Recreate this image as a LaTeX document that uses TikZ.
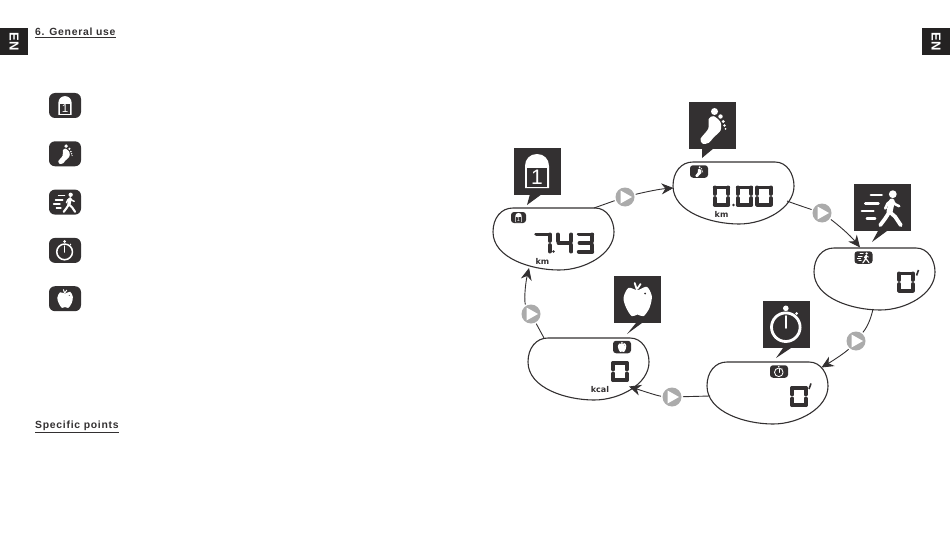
\documentclass[tikz,border=0pt]{standalone}
\usepackage{fontspec}
\usetikzlibrary{arrows.meta}
\usetikzlibrary{positioning}
\setmainfont{Liberation Sans}
\newfontfamily\headfont[LetterSpace=7]{Liberation Sans}
\newfontfamily\unitfont{DejaVu Sans}
\definecolor{ink}{HTML}{333031}
\definecolor{btngray}{HTML}{ABABAB}
% lcd segments of one digit
\def\sega{(-6.8,-8.6) -- (6.8,-8.6)}
\def\segb{(6.8,-8.6) -- (6.8,-2)}
\def\segc{(6.8,2) -- (6.8,8.6)}
\def\segd{(-6.8,8.6) -- (6.8,8.6)}
\def\sege{(-6.8,2) -- (-6.8,8.6)}
\def\segf{(-6.8,-8.6) -- (-6.8,-2)}
\def\segg{(-6,0) -- (6,0)}
\tikzset {
  flow/.style = {
    draw = ink,
    line width = 0.9pt
  },
  % path style with arrow at the end
  flowarr/.style = {
    flow,
    -{Stealth[length = 12pt, width = 11pt]}
  },
  blobline/.style = {
    draw = ink,
    line width = 1.1pt,
    fill = white
  },
  lcdseg/.style = {
    draw = ink,
    line width = 3.8pt,
    line cap = round
  },
  glyph/.style = {
    draw = white,
    line cap = round,
    line join = round
  }
}
\tikzset {
  % big square picture above a display
  bigicon/.style = {
    fill = ink,
    minimum width = 47pt,
    minimum height = 47pt,
    inner sep = 0
  },
  % rounded icon inside a display
  tinyicon/.style = {
    fill = ink,
    rounded corners = 3pt,
    minimum width = 18pt,
    minimum height = 12.5pt,
    inner sep = 0
  },
  % rounded icon of the left column
  listicon/.style = {
    fill = ink,
    rounded corners = 6pt,
    minimum width = 32pt,
    minimum height = 25pt,
    inner sep = 0
  },
  playbtn/.style = {
    circle,
    fill = btngray,
    minimum size = 19pt,
    inner sep = 0,
    outer sep = 1.5pt,
    path picture = {
      \fill[white] (path picture bounding box.center)
      ++(-4.5,-6.5) -- ++(11.5,6.5) -- ++(-11.5,6.5) -- cycle;
    }
  },
  langtab/.style = {
    fill = ink!70!black,
    text = white,
    minimum width = 28pt,
    minimum height = 27pt,
    inner sep = 0
  },
  heading/.style = {
    anchor = west,
    inner sep = 0,
    text = ink,
    font = \headfont\bfseries\fontsize{10.4}{12}\selectfont
  },
  unitlabel/.style = {
    inner sep = 0,
    text = ink,
    font = \unitfont\bfseries\fontsize{8}{9}\selectfont
  },
  node distance = 22.9pt
}
\tikzset {
  display blob/.pic = {
    \path[blobline] (20,0) -- (102,0)
    .. controls (114,0) and (121,12) .. (121,24)
    .. controls (121,46) and (92,62) .. (66,62)
    .. controls (38,62) and (0,50) .. (0,24)
    .. controls (0,10) and (8,0) .. (20,0) -- cycle;
  },
  lcd digit/.pic = {
    \foreach \seg in {#1} {
      \draw[lcdseg] \csname seg\seg\endcsname;
    }
  },
  % the glyphs, #1 is the size against the big square
  odo glyph/.pic = {
    \begin{scope}[scale = #1]
      \fill[white] (-12,17) -- (-12,-5) .. controls (-12,-12) and (-7,-17) .. (0,-17)
      .. controls (7,-17) and (12,-12) .. (12,-5) -- (12,17) -- cycle;
      \fill[ink] (-9.7,-3.3) rectangle (9.7,15.5);
      \node[text = white, inner sep = 0, transform shape,
        font = \fontsize{21}{21}\selectfont] (odo-one) at (0,6.2) {1};
    \end{scope}
  },
  foot glyph/.pic = {
    \begin{scope}[scale = #1]
      \fill[white] plot[smooth cycle] coordinates {(-12,13.3) (-9.7,18.3) (-3.7,17.3)
        (1.3,11.7) (8,5) (8,-3.3) (1.3,-9.3) (-3.7,-6.7) (-4.3,3.3)};
      \fill[white] (2,-14) circle (3.5) (8,-9) circle (2.2) (10.7,-4) circle (1.6)
      (12,0) circle (1.3) (13,3.3) circle (1);
    \end{scope}
  },
  walk glyph/.pic = {
    \begin{scope}[scale = #1]
      \fill[white] (10.3,-13.3) circle (3.9);
      \draw[glyph, line width = #1*6pt] (9.3,-6) -- (7,4.3);
      \draw[glyph, line width = #1*3.8pt] (7,4.3) -- (12.7,9.3) -- (18.3,17.7)
      (7,4.3) -- (2.7,11) -- (-2.3,17.7);
      \draw[glyph, line width = #1*2.6pt] (9.3,-7) -- (12.7,-3.3) -- (16.7,-1.3)
      (9.3,-7) -- (5,-4) -- (2.7,1);
      \draw[glyph, line width = #1*2.4pt] (-11.7,-12.3) -- (-0.7,-12.3)
      (-17.3,-4) -- (-4,-4) (-20.7,3.7) -- (-9,3.7) (-15.7,11) -- (-7.3,11);
    \end{scope}
  },
  clock glyph/.pic = {
    \begin{scope}[scale = #1]
      \draw[glyph, line width = #1*2.8pt] (-0.7,2.7) circle (14.3);
      \draw[glyph, line width = #1*2pt] (-0.7,-8.3) -- (-0.7,3.3);
      \fill[white] (-0.7,-16.2) circle (2.8) (10,-11) circle (1.5);
    \end{scope}
  },
  apple glyph/.pic = {
    \begin{scope}[scale = #1]
      \fill[white] plot[smooth cycle] coordinates {(0,-9.3) (9.3,-12.7) (14.3,-3.3)
        (12,8.3) (6,16.7) (0,15) (-5.7,16.7) (-11.3,8.3) (-14,-1.7) (-9,-11.7)};
      \draw[glyph, line width = #1*1.8pt] (-0.7,-10) -- (-2.8,-16.5)
      (0,-11) -- (3,-15.5);
      \fill[ink] (7.7,-6) circle (1);
    \end{scope}
  }
}
\begin{document}
\begin{tikzpicture}[x = 1pt, y = -1pt]
  \useasboundingbox (0,0) rectangle (950,559);

  \node[langtab] (tab-left) at (14,41.5) {\rotatebox{-90}{\bfseries\fontsize{13}{13}\selectfont EN}};
  \node[langtab] (tab-right) at (936,41.5) {\rotatebox{-90}{\bfseries\fontsize{13}{13}\selectfont EN}};
  \node[heading] (title) at (35,32.5) {\underline{6. General use}};
  \node[heading] (specific) at (35,426.5) {\underline{Specific points}};

  % left column
  \node[listicon] (list-odo) at (65,105.5) {};
  \node[listicon] (list-foot) [below=of list-odo] {};
  \node[listicon] (list-walk) [below=of list-foot] {};
  \node[listicon] (list-clock) [below=of list-walk] {};
  \node[listicon] (list-apple) [below=of list-clock] {};
  \pic at (list-odo) {odo glyph = 0.55};
  \pic at (list-foot) {foot glyph = 0.55};
  \pic at (list-walk) {walk glyph = 0.55};
  \pic at (list-clock) {clock glyph = 0.55};
  \pic at (list-apple) {apple glyph = 0.55};

  % displays
  \pic (odo-blob) at (493,208) {display blob};
  \pic (foot-blob) at (673,162) {display blob};
  \pic (walk-blob) at (814,248) {display blob};
  \pic (clock-blob) at (707,362) {display blob};
  \pic (apple-blob) at (528,338) {display blob};

  % big squares and their spikes
  \node[bigicon] (odo-icon) at (537,171) {};
  \node[bigicon] (foot-icon) at (712.5,125.5) {};
  \node[bigicon, minimum width = 57pt] (walk-icon) at (882.5,207.5) {};
  \node[bigicon] (clock-icon) at (786.5,324.5) {};
  \node[bigicon] (apple-icon) at (637.5,299.5) {};
  \fill[ink] (530,194) -- (542,194) -- (527,205) -- cycle;
  \fill[ink] (702,148) -- (714,148) -- (702,158) -- cycle;
  \fill[ink] (878,231) -- (887,231) -- (872,242) -- cycle;
  \fill[ink] (783,348) -- (791,348) -- (776,358) -- cycle;
  \fill[ink] (636,323) -- (642,323) -- (627,334) -- cycle;
  \pic at (odo-icon) {odo glyph = 1};
  \pic at (foot-icon) {foot glyph = 1};
  \pic at (walk-icon) {walk glyph = 1};
  \pic at (clock-icon) {clock glyph = 1};
  \pic at (apple-icon) {apple glyph = 1};

  % icons inside the displays
  \node[tinyicon, minimum width = 15pt, minimum height = 11pt] (odo-tiny) at (518.5,217.5) {};
  \node[tinyicon] (foot-tiny) at (699,171.5) {};
  \node[tinyicon] (walk-tiny) at (863.5,257.5) {};
  \node[tinyicon] (clock-tiny) at (779,371.5) {};
  \node[tinyicon] (apple-tiny) at (622,347) {};
  \pic at (odo-tiny) {odo glyph = 0.27};
  \pic at (foot-tiny) {foot glyph = 0.3};
  \pic at (walk-tiny) {walk glyph = 0.3};
  \pic at (clock-tiny) {clock glyph = 0.3};
  \pic at (apple-tiny) {apple glyph = 0.3};

  % numbers
  \pic at (543,243) {lcd digit = {a,b,c}};
  \fill[ink] (553.5,251.5) circle (1.4);
  \pic at (564.5,243) {lcd digit = {f,g,b,c}};
  \pic at (585.5,243) {lcd digit = {a,b,g,c,d}};
  \pic at (721.5,196) {lcd digit = {a,b,c,d,e,f}};
  \fill[ink] (733.5,205) circle (1.4);
  \pic at (744.5,196) {lcd digit = {a,b,c,d,e,f}};
  \pic at (764,196) {lcd digit = {a,b,c,d,e,f}};
  \pic at (906,282) {lcd digit = {a,b,c,d,e,f}};
  \pic at (799,396.5) {lcd digit = {a,b,c,d,e,f}};
  \pic at (620,371.5) {lcd digit = {a,b,c,d,e,f}};
  \draw[ink, line width = 1.6pt] (918.5,270) -- (916.5,275.5);
  \draw[ink, line width = 1.6pt] (811,383.5) -- (809,389);
  \node[unitlabel] (odo-unit) at (542.5,261) {km};
  \node[unitlabel] (foot-unit) at (721.5,214.5) {km};
  \node[unitlabel] (apple-unit) at (600,390) {kcal};

  % buttons between the displays
  \node[playbtn] (btn-odo) at (625,197) {};
  \node[playbtn] (btn-foot) at (822,213) {};
  \node[playbtn] (btn-walk) at (856,341) {};
  \node[playbtn] (btn-clock) at (672,397) {};
  \node[playbtn] (btn-apple) at (531,314) {};

  \coordinate (odo-out) at (594,208);
  \coordinate (foot-in) at (673.5,188);
  \coordinate (foot-out) at (787,201);
  \coordinate (walk-in) at (860,247.5);
  \coordinate (walk-out) at (873,309);
  \coordinate (clock-in) at (821.5,367.5);
  \coordinate (clock-out) at (710,396);
  \coordinate (apple-in) at (629,386.5);
  \coordinate (apple-out) at (544,338);
  \coordinate (odo-in) at (529,268);

  \draw[flow] (odo-out) -- (btn-odo);
  \draw[flowarr] (btn-odo) .. controls (645,192) and (660,189) .. (foot-in);
  \draw[flow] (foot-out) .. controls (795,204) and (804,207) .. (btn-foot);
  \draw[flowarr] (btn-foot) .. controls (837,224) and (850,235) .. (walk-in);
  \draw[flow] (walk-out) .. controls (871,318) and (868,326) .. (btn-walk);
  \draw[flowarr] (btn-walk) .. controls (846,352) and (834,360) .. (clock-in);
  \draw[flow] (clock-out) -- (btn-clock);
  \draw[flowarr] (btn-clock) .. controls (658,396) and (643,391) .. (apple-in);
  \draw[flow] (apple-out) -- (btn-apple);
  \draw[flowarr] (btn-apple) .. controls (524,302) and (525,285) .. (odo-in);
\end{tikzpicture}
\end{document}
